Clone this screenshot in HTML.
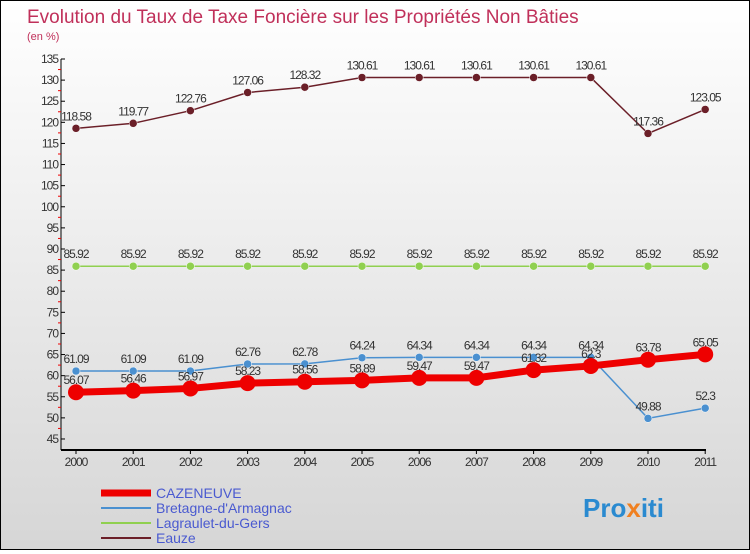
<!DOCTYPE html>
<html><head><meta charset="utf-8"><style>
body{margin:0;width:750px;height:550px;overflow:hidden;font-family:"Liberation Sans",sans-serif}
#wrap{position:relative;width:748px;height:548px;border:1px solid #000;background:linear-gradient(#fff,#d6d6d6)}
</style></head><body>
<div id="wrap">
<svg id="svg" width="748" height="548" xmlns="http://www.w3.org/2000/svg">
<text x="26" y="22" font-size="19" fill="#c0305a">Evolution du Taux de Taxe Foncière sur les Propriétés Non Bâties</text>
<text x="26" y="39" font-size="11" fill="#c0305a">(en %)</text>
<text x="582" y="516" font-size="26" font-weight="bold" fill="#2a8ad0">Pro<tspan fill="#f08020">x</tspan>iti</text>
</svg></div>
<script>
const years=["2000","2001","2002","2003","2004","2005","2006","2007","2008","2009","2010","2011"];
const yTicks=[45,50,55,60,65,70,75,80,85,90,95,100,105,110,115,120,125,130,135];
const cazeneuve=[56.07,56.46,56.97,58.23,58.56,58.89,59.47,59.47,61.32,62.3,63.78,65.05];
const bretagne=[61.09,61.09,61.09,62.76,62.78,64.24,64.34,64.34,64.34,64.34,49.88,52.3];
const lagraulet=[85.92,85.92,85.92,85.92,85.92,85.92,85.92,85.92,85.92,85.92,85.92,85.92];
const eauze=[118.58,119.77,122.76,127.06,128.32,130.61,130.61,130.61,130.61,130.61,117.36,123.05];
const NS="http://www.w3.org/2000/svg",svg=document.getElementById('svg');
const X=i=>75+i*57.2, Y=v=>58+(135-v)*4.222;
function el(t,a,p){const e=document.createElementNS(NS,t);for(const k in a)e.setAttribute(k,a[k]);(p||svg).appendChild(e);return e;}
const ax=el('g',{});
el('line',{x1:60,y1:58,x2:60,y2:449,stroke:'#000'},ax);
el('line',{x1:60,y1:449,x2:705,y2:449,stroke:'#000','stroke-width':2},ax);
yTicks.forEach(v=>{el('line',{x1:60,y1:Y(v),x2:64,y2:Y(v),stroke:'#000'},ax);
 if(v<135)el('line',{x1:57,y1:Y(v+2.5),x2:60,y2:Y(v+2.5),stroke:'#e00'},ax);
 const t=el('text',{x:57,y:Y(v)+4,'font-size':12,'text-anchor':'end',fill:'#333','letter-spacing':'-1'},ax);t.textContent=v;
 });
years.forEach((y,i)=>{el('line',{x1:X(i),y1:449,x2:X(i),y2:453,stroke:'#000'},ax);
 const t=el('text',{x:X(i),y:465,'font-size':12,'text-anchor':'middle',fill:'#333','letter-spacing':'-1'},ax);t.textContent=y;
 });
function series(name,data,color,w,r,lab){
 const g=el('g',{});
 el('polyline',{points:data.map((v,i)=>X(i)+','+Y(v)).join(' '),fill:'none',stroke:color,'stroke-width':w},g);
 data.forEach((v,i)=>{const c=el('circle',{cx:X(i),cy:Y(v),r:r,fill:color,stroke:'#fff','stroke-width':r>4?0:0.5},g);
  
  const t=el('text',{x:X(i),y:Y(v)-8,'font-size':12,'text-anchor':'middle',fill:'#333','letter-spacing':'-1'},g);t.textContent=v;
  });
}
series('eauze-series',eauze,'#6b1f28',1.5,4);
series('lagraulet-series',lagraulet,'#90d050',1.5,4);
series('bretagne-series',bretagne,'#4a90d0',1.5,4);
series('cazeneuve-series',cazeneuve,'#ee0000',7,8);
const leg=[['CAZENEUVE','#ee0000',7],['Bretagne-d\'Armagnac','#4a90d0',2],['Lagraulet-du-Gers','#90d050',2],['Eauze','#6b1f28',2]];
leg.forEach((l,i)=>{const g=el('g',{});
 const y=492+i*15;el('line',{x1:100,y1:y,x2:150,y2:y,stroke:l[1],'stroke-width':l[2]},g);
 const t=el('text',{x:155,y:y+5,'font-size':14,fill:'#4a5ad0'},g);t.textContent=l[0];});
</script></body></html>
